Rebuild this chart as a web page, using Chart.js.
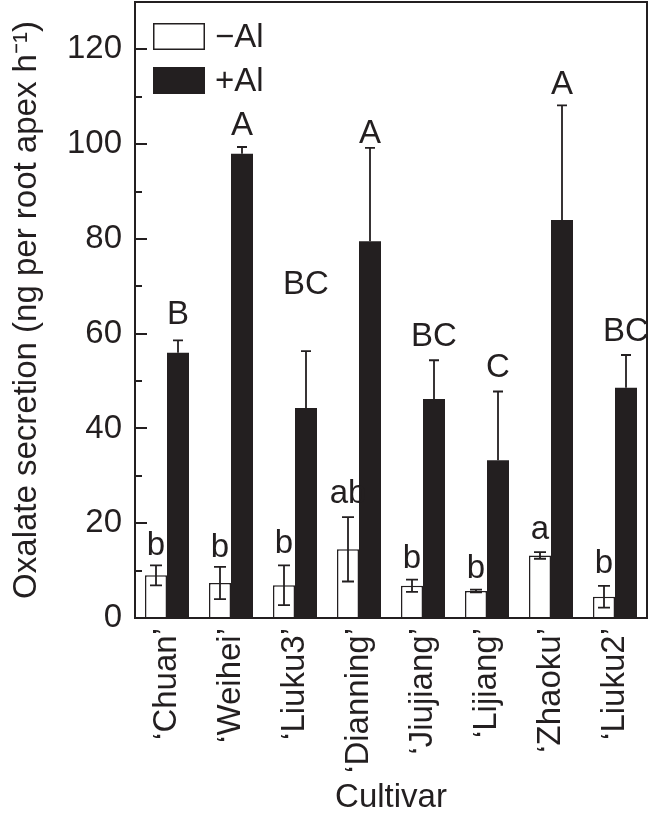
<!DOCTYPE html>
<html>
<head>
<meta charset="utf-8">
<script src="https://cdn.jsdelivr.net/npm/chart.js@4.4.0/dist/chart.umd.min.js"></script>
<style>
  html, body { margin: 0; padding: 0; background: #ffffff; }
  #wrap { width: 651px; height: 818px; position: relative; }
</style>
</head>
<body>
<div id="wrap"><canvas id="c" width="651" height="818"></canvas></div>
<script>
// ---- data ----
const categories = ["\u2018Chuan\u2019", "\u2018Weihei\u2019", "\u2018Liuku3\u2019", "\u2018Dianning\u2019",
                    "\u2018Jiujiang\u2019", "\u2018Lijiang\u2019", "\u2018Zhaoku\u2019", "\u2018Liuku2\u2019"];
const minusAl    = [9.0, 7.4, 6.9, 14.5, 6.8, 5.7, 13.2, 4.5];
const minusAlErr = [2.1, 3.4, 4.2, 6.8, 1.3, 0.3, 0.7, 2.3];
const plusAl     = [56.0, 98.0, 44.3, 79.5, 46.2, 33.3, 84.0, 48.6];
const plusAlErr  = [2.6, 1.4, 12.0, 19.7, 8.2, 14.5, 24.2, 6.9];
const minusLetters = ["b", "b", "b", "ab", "b", "b", "a", "b"];
const plusLetters  = ["B", "A", "BC", "A", "BC", "C", "A", "BC"];
// value (in y units) at which each significance letter sits
const minusLetterAt = [13.3, 12.9, 13.7, 24.2, 10.5, 8.4, 16.6, 9.4];
const plusLetterAt  = [62.0, 102.0, 68.4, 100.3, 57.5, 50.8, 110.5, 58.5];
const yTickValues = [0, 20, 40, 60, 80, 100, 120];
const yMinorStep = 10;
const yMax = 130;
const seriesNames = ["\u2212Al", "+Al"];

const INK = "#231f20";
const FONT = "'Liberation Sans', Arial, Helvetica, sans-serif";
const FS = 33;

const errorBars = {
  id: "errorBars",
  afterDatasetsDraw(chart) {
    const ctx = chart.ctx;
    const y = chart.scales.y;
    ctx.save();
    ctx.strokeStyle = INK;
    ctx.lineWidth = 1.8;
    chart.getDatasetMeta(0).data.forEach((bar, i) => {
      const x = bar.x;
      const yt = y.getPixelForValue(minusAl[i] + minusAlErr[i]);
      const yb = y.getPixelForValue(minusAl[i] - minusAlErr[i]);
      const cw = 6;
      ctx.beginPath();
      ctx.moveTo(x, yt); ctx.lineTo(x, yb);
      ctx.moveTo(x - cw, yt); ctx.lineTo(x + cw, yt);
      ctx.moveTo(x - cw, yb); ctx.lineTo(x + cw, yb);
      ctx.stroke();
    });
    chart.getDatasetMeta(1).data.forEach((bar, i) => {
      const x = bar.x;
      const yt = y.getPixelForValue(plusAl[i] + plusAlErr[i]);
      const y0 = y.getPixelForValue(plusAl[i]);
      const cw = 5;
      ctx.beginPath();
      ctx.moveTo(x, y0); ctx.lineTo(x, yt);
      ctx.moveTo(x - cw, yt); ctx.lineTo(x + cw, yt);
      ctx.stroke();
    });
    ctx.fillStyle = INK;
    ctx.font = FS + "px " + FONT;
    ctx.textAlign = "center";
    ctx.textBaseline = "alphabetic";
    chart.getDatasetMeta(0).data.forEach((bar, i) => {
      ctx.fillText(minusLetters[i], bar.x, y.getPixelForValue(minusLetterAt[i]));
    });
    chart.getDatasetMeta(1).data.forEach((bar, i) => {
      ctx.fillText(plusLetters[i], bar.x, y.getPixelForValue(plusLetterAt[i]));
    });
    ctx.restore();
  }
};

const frameAndTicks = {
  id: "frameAndTicks",
  afterDraw(chart) {
    const ctx = chart.ctx;
    const a = chart.chartArea;
    const y = chart.scales.y;
    ctx.save();
    ctx.strokeStyle = INK;
    ctx.lineWidth = 2;
    ctx.strokeRect(a.left, a.top, a.right - a.left, a.bottom - a.top);
    ctx.lineWidth = 1.8;
    ctx.beginPath();
    for (let v = yMinorStep; v < yMax; v += yMinorStep) {
      const py = Math.round(y.getPixelForValue(v));
      const len = yTickValues.includes(v) ? 12 : 7;
      ctx.moveTo(a.left, py);
      ctx.lineTo(a.left + len, py);
    }
    ctx.stroke();
    const ds = chart.data.datasets;
    const bx = a.left + 18, bw = 52, bh = 27;
    const rows = [a.top + 21, a.top + 65];
    ctx.font = FS + "px " + FONT;
    ctx.textBaseline = "middle";
    ctx.textAlign = "left";
    ds.forEach((d, i) => {
      const ry = rows[i];
      ctx.fillStyle = d.backgroundColor;
      ctx.fillRect(bx, ry, bw, bh);
      ctx.lineWidth = 1.5;
      ctx.strokeStyle = INK;
      ctx.strokeRect(bx + 0.75, ry + 0.75, bw - 1.5, bh - 1.5);
      ctx.fillStyle = INK;
      ctx.fillText(d.label, bx + bw + 10, ry + bh / 2 + 1);
    });
    ctx.restore();
  }
};

function zeroPad(s) { s.paddingTop = 0; s.paddingBottom = 0; s.paddingLeft = 0; s.paddingRight = 0; }

new Chart(document.getElementById("c"), {
  type: "bar",
  data: {
    labels: categories,
    datasets: [
      { label: seriesNames[0], data: minusAl, backgroundColor: "#ffffff",
        borderColor: INK, borderWidth: 1.5, barPercentage: 1.0, categoryPercentage: 0.6875 },
      { label: seriesNames[1], data: plusAl, backgroundColor: INK,
        borderColor: INK, borderWidth: 0, barPercentage: 1.0, categoryPercentage: 0.6875 }
    ]
  },
  options: {
    responsive: false,
    animation: false,
    devicePixelRatio: 1,
    layout: { padding: { left: 0, right: 4, top: 2, bottom: 0 } },
    plugins: { legend: { display: false }, tooltip: { enabled: false } },
    scales: {
      x: {
        grid: { display: false, drawTicks: false },
        border: { display: false },
        ticks: {
          color: INK, font: { family: FONT, size: FS },
          minRotation: 90, maxRotation: 90, autoSkip: false, padding: 10
        },
        title: { display: true, text: "Cultivar", color: INK,
                 font: { family: FONT, size: FS }, padding: { top: 0, bottom: 0 } },
        afterFit(s) { s.height = 200; zeroPad(s); }
      },
      y: {
        min: 0, max: yMax,
        grid: { display: false, drawTicks: false },
        border: { display: false },
        ticks: { color: INK, font: { family: FONT, size: FS }, padding: 13 },
        afterBuildTicks(s) { s.ticks = yTickValues.map(v => ({ value: v })); },
        title: { display: true, text: "Oxalate secretion (ng per root apex h\u207B\u00B9)", color: INK,
                 font: { family: FONT, size: FS }, padding: { top: 7, bottom: 0 } },
        afterFit(s) { s.width = 135; zeroPad(s); }
      }
    }
  },
  plugins: [errorBars, frameAndTicks]
});
</script>
</body>
</html>
